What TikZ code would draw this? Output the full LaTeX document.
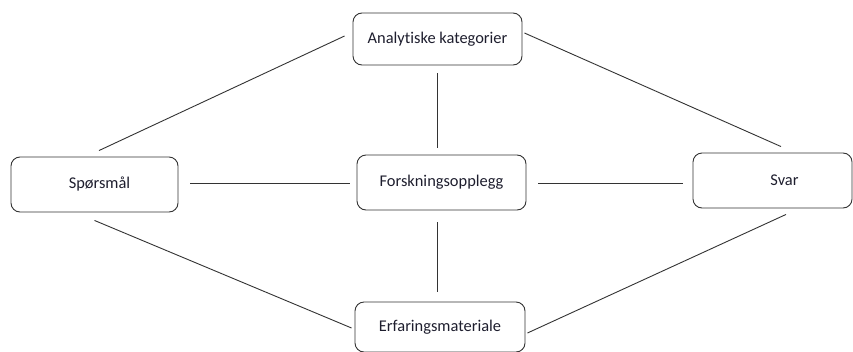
\documentclass[tikz,border=0pt]{standalone}
\usepackage{fontspec}
\setmainfont{Carlito}[Ligatures=NoCommon]
\usetikzlibrary{calc}
\definecolor{edge}{HTML}{333333}
\definecolor{ink}{HTML}{1E1E2E}
\tikzset{
  box/.style={draw=edge, line width=0.9pt, rounded corners=9pt, fill=white,
    inner sep=0pt, text=ink, font=\fontsize{16.4}{19}\selectfont},
  link/.style={draw=edge, line width=0.9pt}
}
\begin{document}
\begin{tikzpicture}[x=1pt,y=-1pt]
  \useasboundingbox[fill=white] (0,0) rectangle (853,351);

  % the five boxes
  \node[box, minimum width=169pt, minimum height=52pt] (ana) at (437.5,39) {Analytiske kategorier};
  \node[box, minimum width=167pt, minimum height=55pt] (sp)  at (94.5,184.5) {\hspace*{10pt}Spørsmål};
  \node[box, minimum width=169pt, minimum height=55pt] (fo)  at (441.5,182.5) {Forskningsopplegg};
  \node[box, minimum width=159pt, minimum height=55pt] (sv)  at (772.5,180.5) {\hspace*{24pt}Svar};
  \node[box, minimum width=170pt, minimum height=50pt] (er)  at (440,327) {Erfaringsmateriale};

  % diagonal connectors
  \draw[link] ($(sp.north)+(4.5,-6)$) -- ($(ana.west)+(-8,-3)$);
  \draw[link] ($(ana.east)+(2,-6)$) -- ($(sv.north)+(8.5,-6)$);
  \draw[link] ($(sp.south)+(0,8)$) -- ($(er.west)+(-3,1)$);
  \draw[link] ($(er.east)+(2,6)$) -- ($(sv.south)+(13.5,6)$);

  % horizontal connectors
  \draw[link] ($(sp.east)+(12,-1.5)$) -- ($(fo.west)+(-7,0.5)$);
  \draw[link] ($(fo.east)+(12,0.5)$) -- ($(sv.west)+(-10,2.5)$);

  % vertical connectors
  \draw[link] ($(ana.south)+(-0.5,8)$) -- ($(fo.north)+(-4.5,-7)$);
  \draw[link] ($(fo.south)+(-4.5,12)$) -- ($(er.north)+(-3,-10)$);
\end{tikzpicture}
\end{document}
